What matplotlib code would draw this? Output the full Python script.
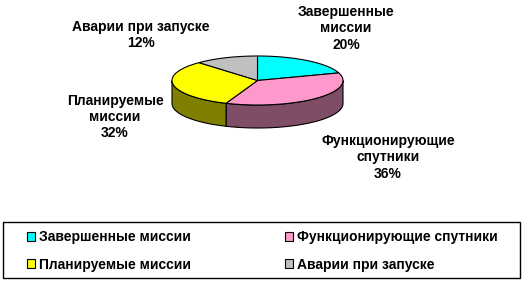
import numpy as np
import matplotlib
matplotlib.use("Agg")
import matplotlib.pyplot as plt
from matplotlib.patches import Polygon, Patch, Rectangle

labels = ["Завершенные миссии", "Функционирующие спутники", "Планируемые миссии", "Аварии при запуске"]
values = [20, 36, 32, 12]
top_colors = ["#00FFFF", "#FF99CC", "#FFFF00", "#C0C0C0"]
side_colors = ["#008080", "#804D66", "#808000", "#606060"]

plt.rcParams['font.family'] = ['Liberation Sans', 'DejaVu Sans']
plt.rcParams['font.weight'] = 'bold'

fig = plt.figure(figsize=(5.25, 2.82), dpi=100)
ax = fig.add_axes([0, 0, 1, 1])
ax.set_xlim(0, 525)
ax.set_ylim(282, 0)
ax.axis('off')

# pie geometry (pixels)
cx, cy, rx, ry, depth = 257.5, 80.5, 85.5, 24.5, 23


def pt(t, dy=0):
    return cx + rx * np.cos(t), cy - ry * np.sin(t) + dy


fracs = np.array(values) / sum(values)
ends = np.pi / 2 - 2 * np.pi * np.cumsum(fracs)
starts = np.concatenate([[np.pi / 2], ends[:-1]])

# sides (front half only)
for s, e, col in zip(starts, ends, side_colors):
    for shift in (-2 * np.pi, 0, 2 * np.pi):
        lo = max(e + shift, np.pi)
        hi = min(s + shift, 2 * np.pi)
        if hi > lo:
            t = np.linspace(lo, hi, 60)
            x, y = pt(t)
            xb, yb = pt(t[::-1], depth)
            poly = Polygon(np.column_stack([np.concatenate([x, xb]), np.concatenate([y, yb])]),
                           closed=True, facecolor=col, edgecolor='black', lw=0.8)
            ax.add_patch(poly)

# top faces
for s, e, col in zip(starts, ends, top_colors):
    t = np.linspace(s, e, 80)
    x, y = pt(t)
    poly = Polygon(np.column_stack([np.concatenate([[cx], x]), np.concatenate([[cy], y])]),
                   closed=True, facecolor=col, edgecolor='black', lw=0.8)
    ax.add_patch(poly)

# data labels
fs = 10
ax.text(346, 28.5, "Завершенные\nмиссии\n20%", ha='center', va='center', fontsize=fs, linespacing=1.2)
ax.text(388, 157.5, "Функционирующие\nспутники\n36%", ha='center', va='center', fontsize=fs, linespacing=1.2)
ax.text(115, 117, "Планируемые\nмиссии\n32%", ha='center', va='center', fontsize=fs, linespacing=1.2)
ax.text(141, 35, "Аварии при запуске\n12%", ha='center', va='center', fontsize=fs, linespacing=1.2)

# legend (row-wise order like the original)
order = [0, 2, 1, 3]
handles = [Patch(facecolor=top_colors[i], edgecolor='black', lw=0.8) for i in order]
leg_labels = [labels[i] for i in order]
leg = fig.legend(handles, leg_labels, ncol=2, loc='center left', mode='expand',
                 bbox_to_anchor=(20 / 525, 1 - 251 / 282, 485 / 525, 0), fontsize=fs,
                 frameon=False, handlelength=0.6, handleheight=0.6, handletextpad=0.3,
                 labelspacing=0.95, borderpad=0)
ax.add_patch(Rectangle((3, 222), 517, 56, facecolor='none', edgecolor='black', lw=1.0))

fig.savefig("out.png", dpi=100)
